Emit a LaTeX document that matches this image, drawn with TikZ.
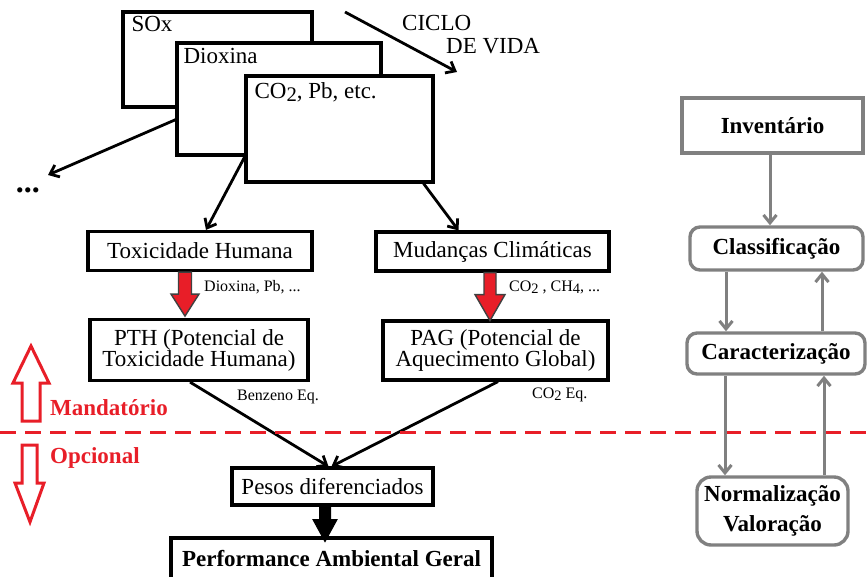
\documentclass[tikz,border=0pt]{standalone}
\usepackage{fontspec}
\setmainfont{Liberation Serif}
\usepackage{graphicx}
\usetikzlibrary{arrows.meta,calc}
\definecolor{mred}{RGB}{232,30,40}
\definecolor{mgray}{RGB}{128,128,128}
% lowered index digit, as in CO2
\newcommand\lowidx[1]{\raisebox{-0.3ex}{\scalebox{0.9}{#1}}}
\begin{document}
\begin{tikzpicture}[x=1pt,y=-1pt,
  box/.style={draw, line width=3.2pt, fill=white, inner sep=0pt,
    font=\fontsize{23}{21}\selectfont, align=center},
  stackbox/.style={draw, line width=3.2pt, fill=white, inner sep=0pt},
  stacktext/.style={anchor=base west, inner sep=0pt, font=\fontsize{23}{26}\selectfont},
  gbox/.style={draw=mgray, line width=3.4pt, fill=white, inner sep=0pt,
    font=\bfseries\fontsize{23}{30}\selectfont, align=center},
  rbox/.style={gbox, rounded corners=10pt},
  link/.style={line width=2.8pt, -{Straight Barb[length=8pt,width=13pt]}},
  glink/.style={draw=mgray, line width=3pt, -{Straight Barb[length=8pt,width=13pt]}},
  small/.style={anchor=west, inner sep=0pt, font=\fontsize{16}{18}\selectfont},
  note/.style={anchor=west, inner sep=0pt, text=mred, font=\bfseries\fontsize{23}{26}\selectfont},
  redarrow/.style={fill=mred, draw=black!75, line width=1.4pt, line join=miter},
  blkarrow/.style={fill=black, draw=black, line width=1pt},
  hollow/.style={draw=mred, fill=white, line width=3pt, line join=miter}
]
\useasboundingbox (0,0) rectangle (867,576);
\clip (0,0) rectangle (867,576);

% stacked emission sheets
\node[stackbox, minimum width=189, minimum height=95] (sox) at (217.5,59.5) {};
\node[stacktext] (soxt) at ([xshift=10pt,yshift=-21pt]sox.north west) {SOx};
\node[stackbox, minimum width=204, minimum height=112] (diox) at (279,99) {};
\node[stacktext] (dioxt) at ([xshift=8pt,yshift=-22pt]diox.north west) {Dioxina};
\node[stackbox, minimum width=187, minimum height=106] (co2) at (339.5,129) {};
\node[stacktext] (co2t) at ([xshift=10pt,yshift=-24pt]co2.north west) {CO\lowidx{2}, Pb, etc.};

% life cycle direction
\coordinate (cvA) at (345,12);
\coordinate (cvB) at (457,72);
\draw[link] (cvA) -- (cvB);
\node[stacktext, anchor=west] (ciclo) at (402,23) {CICLO};
\node[stacktext, anchor=west] (vida) at (446,46) {DE VIDA};

% further emissions
\node[inner sep=0pt, font=\bfseries\fontsize{32}{32}\selectfont] (dots) at (28,190) {...};
\coordinate (dotsend) at (48,175);
\draw[link] ($(diox.north west)!0.68!(diox.south west)$) -- (dotsend);

% impact categories
\node[box, minimum width=224, minimum height=39] (tox) at (200,251) {Toxicidade Humana};
\node[box, minimum width=233, minimum height=39] (mud) at (492.5,251.5) {Mudanças Climáticas};
\node[box, minimum width=218, minimum height=61] (pth) at (199,350) {PTH (Potencial de\\Toxicidade Humana)};
\node[box, minimum width=225, minimum height=59] (pag) at (495.5,350.5) {PAG (Potencial de\\Aquecimento Global)};
\node[box, minimum width=201, minimum height=37] (pesos) at (332.5,486.5) {Pesos diferenciados};
\node[box, minimum width=321, minimum height=42, font=\bfseries\fontsize{23}{26}\selectfont] (perf) at (331.5,559) {Performance Ambiental Geral};

\draw[link] ($(co2.north west)!0.76!(co2.south west)$) -- ($(tox.north)+(6,0)$);
\draw[link] ($(co2.south east)+(-11,0)$) -- ($(mud.north)+(-34,0)$);
\draw[link] ($(pth.south)+(-9,0)$) -- ($(pesos.north)+(-4,0)$);
\draw[link] ($(pag.south)+(2.5,0)$) -- ($(pesos.north)+(-1,0)$);

% characterisation block arrows
\draw[redarrow] ($(tox.south)+(-21.5,0)$) -- ++(13,0) -- ++(0,22) -- ++(7.5,0)
  -- ++(-14,22) -- ++(-14,-22) -- ++(7.5,0) -- cycle;
\draw[redarrow] ($(mud.south)+(-8.5,0)$) -- ++(12,0) -- ++(0,22) -- ++(9,0)
  -- ++(-15,26) -- ++(-15,-26) -- ++(9,0) -- cycle;
\draw[blkarrow] ($(pesos.south)+(-13,0)$) -- ++(11,0) -- ++(0,13) -- ++(6.5,0)
  -- ++(-12,22) -- ++(-12,-22) -- ++(6.5,0) -- cycle;

\node[small] (ltox) at (204,287) {Dioxina, Pb, ...};
\node[small] (lmud) at (509,287) {CO\lowidx{2} , CH\lowidx{4}, ...};
\node[small] (lpth) at (237,397) {Benzeno Eq.};
\node[small] (lpag) at (532,395) {CO\lowidx{2} Eq.};

% mandatory / optional split
\draw[mred, line width=3pt, dash pattern=on 16pt off 9pt] (0,432) -- (867,432);
\draw[hollow] (22,421) -- (22,383) -- (13,383) -- (31,346) -- (49,383) -- (40,383) -- (40,421) -- cycle;
\draw[hollow] (22,445) -- (37,445) -- (37,483) -- (44,483) -- (30,522) -- (15,483) -- (22,483) -- cycle;
\node[note] (mand) at (50,408) {Mandatório};
\node[note] (opc) at (50,458) {Opcional};

% assessment steps
\node[gbox, minimum width=181, minimum height=55] (inv) at (772.5,125.5) {Inventário};
\node[rbox, minimum width=173, minimum height=43] (cls) at (776.5,248.5) {Classificação};
\node[rbox, minimum width=178, minimum height=41] (car) at (776,353.5) {Caracterização};
\node[rbox, rounded corners=14pt, minimum width=151, minimum height=68] (norm) at (772.5,511) {Normalização\\Valoração};

\coordinate (g1) at ([xshift=-2.5pt]inv.south);
\coordinate (g2) at ([xshift=-50.5pt]cls.south);
\coordinate (g3) at ([xshift=46pt]car.north);
\coordinate (g4) at ([xshift=-51pt]car.south);
\coordinate (g5) at ([xshift=51.5pt]norm.north);
\draw[glink] (g1) -- (g1 |- cls.north);
\draw[glink] (g2) -- (g2 |- car.north);
\draw[glink] (g3) -- (g3 |- cls.south);
\draw[glink] (g4) -- (g4 |- norm.north);
\draw[glink] (g5) -- (g5 |- car.south);
\end{tikzpicture}
\end{document}
